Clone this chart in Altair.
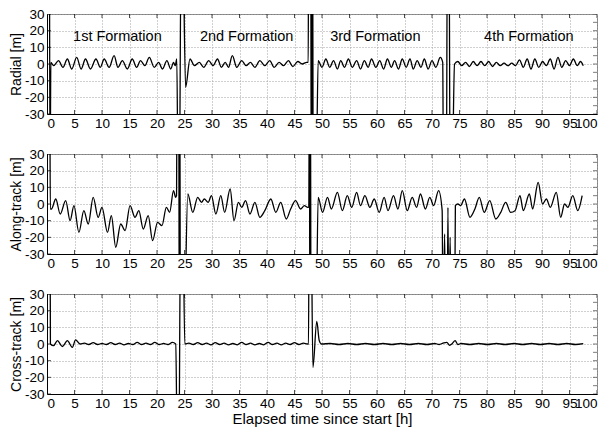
import altair as alt
import pandas as pd

# ---------------- data ----------------
x_ticks = list(range(0, 101, 5))
y_ticks = [-30, -20, -10, 0, 10, 20, 30]
y_minor = list(range(-30, 31, 5))

formation_names = ["1st Formation", "2nd Formation", "3rd Formation", "4th Formation"]
formation_t = [12.8, 36.3, 59.7, 87.6]
formation_v = [16, 16, 16, 16]

radial_t = [0.45, 0.55, 0.7, 1.2, 2.1, 2.9, 3.7, 4.5, 5.4, 6.2, 7.0, 7.9, 8.9, 9.7, 10.4, 11.3,
            12.2, 12.9, 13.7, 14.6, 15.5, 16.3, 17.0, 17.8, 18.6, 19.5, 20.3, 21.0, 21.8, 22.5,
            23.0, 23.3, 23.6, 23.85, 24.05, 24.4, 24.65, 25.2, 26.0, 26.8, 27.7, 28.5, 29.4, 30.2,
            31.0, 31.7, 32.4, 33.0, 33.7, 34.5, 35.4, 36.2, 37.0, 37.8, 38.7, 39.6, 40.5, 41.3,
            42.2, 43.0, 43.9, 44.7, 45.6, 46.4, 47.2, 47.5, 47.55, 47.95, 48.05, 48.15, 48.25,
            48.3, 48.4, 48.9, 49.3, 50.0, 50.7, 51.4, 52.1, 52.8, 53.4, 54.1, 54.8, 55.5, 56.3,
            57.0, 57.7, 58.4, 59.0, 59.8, 60.5, 61.2, 61.9, 62.6, 63.2, 63.9, 64.6, 65.3, 66.0,
            66.6, 67.3, 68.0, 68.6, 69.3, 70.0, 70.7, 71.5, 71.95, 72.1, 72.6, 72.8, 73.1, 73.3,
            73.6, 74.1, 74.7, 75.4, 76.1, 76.8, 77.5, 78.2, 78.9, 79.6, 80.3, 81.0, 81.7, 82.4,
            83.1, 83.8, 84.5, 85.2, 85.9, 86.6, 87.3, 88.0, 88.7, 89.4, 90.1, 90.8, 91.5, 92.2,
            92.9, 93.6, 94.3, 95.0, 95.7, 96.4, 97.0, 97.5]
radial_v = [80, -80, 1, -1, 2, -2, 3, -3, 4, -3, 3, -3, 3, -2, 3, -2,
            5, -2, 2, -3, 3, -2, 2, -1, 4, -2, 1, -3, 2, -3,
            1, -1, 3, -80, -80, 80, 80, -14, 3, -1, 1, -2, 2, -1,
            3, -2, 1, -2, 5, -2, 2, -1, 1, -2, 2, -1, 2, -2,
            1, -1, 2, -1.5, 1.5, 0, 1, 1, 80, 80, -80, -80, 80,
            80, -80, -80, 2, -2, 3, -2, 2, -3, 2, -2, 3, -2, 2,
            -3, 2, -2, 3, -2, 2, -3, 3, -2, 2, -3, 3, -2, 3,
            -3, 2, -2, 3, -3, 2, -2, 4, 1, -80, -80, 80, 80, -80,
            -80, 0, 1.5, -1, 1, -1.5, 1.5, -1, 1.5, -1, 1.5, -1.5, 1, -1,
            0.5, -1, 0.5, -1, 2.5, -2, 3, -3, 3, -2, 1.5, -1, 3, -3,
            4, -2, 2, -1, 3, -1, 1.5, -1]

along_t = [0.0, 0.05, 0.5, 0.6, 0.8, 1.6, 2.4, 3.4, 4.2, 4.9, 5.8, 6.7, 7.5, 8.4, 9.3, 10.0,
           11.0, 11.7, 12.5, 13.4, 14.2, 15.1, 16.0, 16.7, 17.5, 18.4, 19.2, 20.1, 20.9, 21.7,
           22.3, 23.0, 23.4, 23.55, 23.65, 23.95, 24.05, 24.15, 24.25, 24.9, 25.6, 26.5, 27.4,
           28.1, 28.6, 29.3, 29.9, 30.7, 31.6, 32.3, 33.3, 34.0, 34.8, 35.4, 36.1, 36.9, 37.8,
           38.7, 39.6, 40.7, 41.6, 42.5, 43.5, 44.3, 45.2, 46.1, 46.8, 47.4, 47.6, 47.7, 47.8,
           47.9, 48.0, 48.9, 49.3, 50.1, 51.0, 51.7, 52.8, 53.7, 54.6, 55.4, 56.3, 57.0, 57.8,
           58.7, 59.5, 60.4, 61.3, 62.0, 63.0, 63.8, 64.6, 65.5, 66.4, 67.2, 67.9, 68.8, 69.6,
           70.3, 71.2, 71.85, 72.0, 72.3, 72.45, 72.75, 72.9, 73.05, 73.3, 73.5, 74.1, 74.25,
           74.7, 75.2, 75.9, 76.9, 77.8, 78.6, 79.5, 80.5, 81.6, 82.5, 83.4, 84.3, 85.1, 86.0,
           86.6, 87.7, 88.3, 89.3, 90.1, 90.8, 91.5, 92.6, 93.4, 94.1, 94.7, 95.6, 96.5, 97.3]
along_v = [-80, 80, 80, -3, -3, 3, -6, 2, -10, -1, -17, -4, -12, 4, -8, -2,
           -17, -7, -26, -12, -16, -1, -8, -4, -15, -7, -22, -11, -13, -2,
           -5, 8, 4, 5, 80, 80, -80, 80, -80, -80, 6, -5, 4,
           1, 3, 1, 5, -6, 5, -5, 9, -10, 1, -2, 2, -6, 1,
           -8, -4, 3, -5, 1, -9, -3, 2, -3, -1, -2, -2, 80, -80,
           80, -80, -80, 4, -5, 4, -3, 7, -4, 5, -2, 7, -1, 5,
           -2, 3, -5, 4, -4, 5, -3, 8, -4, 4, -2, 6, -3, 4,
           -1, 8, -4, -80, -18, -80, -80, -2, -80, -20, -80, -80, -1,
           0, -1, 3, -8, -3, 4, -5, 2, -9, -5, 1, -5, -4, 5,
           -4, 6, -3, 13, 0, 3, -2, 7, -8, 0, -2, 5, -4, 5]

cross_t = [0.0, 0.05, 0.55, 0.62, 1.2, 1.9, 2.8, 3.7, 4.6, 5.2, 6.0, 6.8, 7.6, 8.4, 9.2, 10.0,
           10.8, 11.6, 12.4, 13.2, 14.0, 14.8, 15.6, 16.4, 17.2, 18.0, 18.8, 19.6, 20.4, 21.2,
           22.0, 22.8, 23.4, 23.75, 23.95, 24.3, 24.7, 25.05, 25.8, 26.6, 27.4, 28.2, 29.0,
           29.8, 30.6, 31.4, 32.2, 33.0, 33.8, 34.6, 35.4, 36.2, 37.0, 37.8, 38.6, 39.4, 40.2,
           41.0, 41.8, 42.6, 43.4, 44.2, 45.0, 45.8, 46.6, 47.4, 47.55, 47.65, 48.0, 48.35,
           49.05, 49.5, 49.9, 51.5, 53.1, 54.7, 56.3, 57.9, 59.5, 61.1, 62.7, 64.3, 65.9, 67.5,
           69.1, 70.5, 71.3, 72.0, 72.7, 73.2, 73.7, 74.2, 74.7, 75.3, 76.9, 78.5, 80.1, 81.7,
           83.3, 84.9, 86.5, 88.1, 89.7, 91.3, 92.9, 94.5, 96.1, 97.5]
cross_v = [-10, 80, 80, 0, -1, 2, -1.5, 2, -2, 2.5, 0, 0.5, -0.3, 0.8, -0.3, 0.3,
           -0.3, 0.8, -0.3, 0.5, -0.5, 0.3, -0.3, 1, -0.3, 0.5, -0.3, 1, -0.3, 0.3,
           -0.3, 1, 0, -80, -80, 80, 80, 0, 0.5, -0.3, 0.8, -0.3, 0.5,
           -0.5, 0.8, -0.3, 0.5, -0.5, 0.3, -0.5, 1, -0.3, 0.5, -0.5, 0.3, -0.5, 1,
           -0.3, 0.5, -0.5, 0.5, -0.3, 0.8, -0.3, 0.5, 0, 0, 80, 80, -14,
           13.5, 2, 0, 0.3, -0.3, 0.3, -0.3, 0.3, -0.3, 0.3, -0.3, 0.3, -0.3, 0.3,
           -0.3, 0.3, -0.3, 0.5, 1, -0.8, 0.3, 2, -0.3, 0.3, -0.3, 0.3, -0.3, 0.3,
           -0.3, 0.3, -0.3, 0.3, -0.3, 0.3, -0.3, 0.3, -0.3, 0.2]

# ---------------- chart ----------------
W, H = 550, 100
FONT = "Liberation Sans"
HYPHEN_LABEL = "datum.value < 0 ? '-' + abs(datum.value) : '' + datum.value"


def panel(t, v, ytitle, xtitle="", notes=False):
    df = pd.DataFrame({"t": t, "v": v})
    X = alt.X("t:Q", scale=alt.Scale(domain=[0, 100], nice=False, zero=False),
              axis=alt.Axis(values=x_ticks, grid=True, ticks=False, tickSize=0, labelPadding=2,
                            labelOverlap=False, domainColor="black", title=xtitle,
                            titlePadding=2, titleFontSize=15, minExtent=0))
    Y = alt.Y("v:Q", scale=alt.Scale(domain=[-30, 30], nice=False, zero=False),
              axis=alt.Axis(values=y_ticks, grid=True, ticks=False, tickSize=0, labelPadding=3,
                            labelOverlap=False, domainColor="black", title=ytitle,
                            titlePadding=1, minExtent=0, labelExpr=HYPHEN_LABEL))
    line = alt.Chart(df).mark_line(color="black", strokeWidth=1.3, clip=True,
                                   interpolate="monotone").encode(x=X, y=Y)
    xt = pd.DataFrame({"t": x_ticks})
    ym = pd.DataFrame({"v": y_minor})
    yt = pd.DataFrame({"v": y_ticks})
    tick_top = alt.Chart(xt).mark_tick(orient="vertical", size=8, thickness=1, color="black",
                                       clip=True).encode(x=X, y=alt.value(0))
    tick_bot = alt.Chart(xt).mark_tick(orient="vertical", size=8, thickness=1, color="black",
                                       clip=True).encode(x=X, y=alt.value(H))
    tick_left = alt.Chart(yt).mark_tick(orient="horizontal", size=8, thickness=1, color="black",
                                        clip=True).encode(y=Y, x=alt.value(0))
    tick_right = alt.Chart(ym).mark_tick(orient="horizontal", size=8, thickness=1, color="#444",
                                         clip=True).encode(y=Y, x=alt.value(W))
    layers = [line, tick_top, tick_bot, tick_left, tick_right]
    if notes:
        nd = pd.DataFrame({"t": formation_t, "v": formation_v, "label": formation_names})
        txt = alt.Chart(nd).mark_text(font=FONT, fontSize=14.5, color="black",
                                      baseline="middle", align="center").encode(
            x=X, y=Y, text="label:N")
        layers.append(txt)
    return alt.layer(*layers).properties(width=W, height=H)


top = panel(radial_t, radial_v, "Radial [m]", notes=True)
mid = panel(along_t, along_v, "Along-track [m]")
bot = panel(cross_t, cross_v, "Cross-track [m]", xtitle="Elapsed time since start [h]")

chart = alt.vconcat(top, mid, bot, spacing=16).properties(
    padding={"left": 0, "top": -2, "right": 0, "bottom": 0},
    background="white",
).configure_view(stroke="#808080", strokeWidth=1).configure_axis(
    labelFont=FONT, labelFontSize=13.5, labelColor="black",
    titleFont=FONT, titleFontSize=14, titleColor="black", titleFontWeight="normal",
    gridColor="#a0a0a0", gridDash=[1, 2], gridWidth=1,
)

chart.save("out.html", embed_options={"renderer": "svg", "actions": False})
